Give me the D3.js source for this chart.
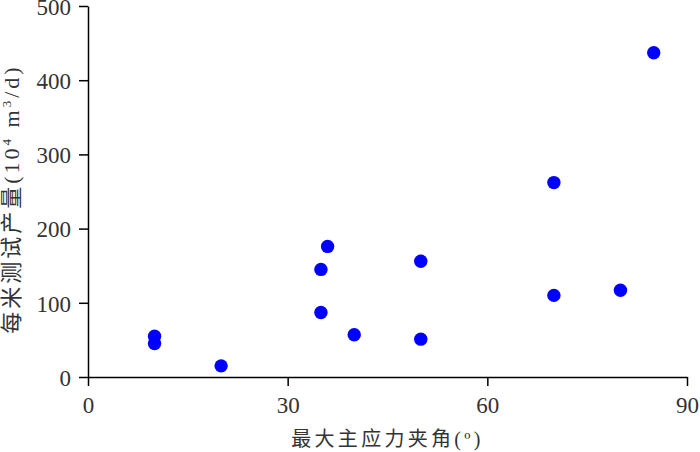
<!DOCTYPE html>
<html>
<head>
<meta charset="utf-8">
<script src="https://cdn.jsdelivr.net/npm/d3@7"></script>
<style>
  html, body { margin: 0; padding: 0; background: #fff; }
  svg { display: block; }
  .serif { font-family: "Liberation Serif", "Times New Roman", Times, "Noto Sans CJK SC", serif; }
</style>
</head>
<body>
<svg id="chart" width="700" height="452"></svg>
<script>
// Data
const angle = [10, 10, 20, 35, 36, 35, 40, 50, 50, 70, 70, 80, 85];
const production = [55, 45, 15, 145, 176, 87, 57, 51, 156, 262, 110, 117, 437];
const xTicks = [0, 30, 60, 90];
const yTicks = [0, 100, 200, 300, 400, 500];
const xTitle = "最大主应力夹角(º)";
const yTitleCJK = "每米测试产量";

const svg = d3.select("#chart");
const margin = { left: 88, right: 13, top: 6, bottom: 75 };
const W = 700, H = 452;

const x = d3.scaleLinear().domain([0, 90]).range([margin.left, W - margin.right]);
const y = d3.scaleLinear().domain([0, 500]).range([H - margin.bottom, margin.top]);

const xAxis = svg.append("g")
  .attr("transform", `translate(0,${y(0)})`)
  .call(d3.axisBottom(x).tickValues(xTicks).tickSize(9).tickPadding(11).tickSizeOuter(0));
const yAxis = svg.append("g")
  .attr("transform", `translate(${x(0)},0)`)
  .call(d3.axisLeft(y).tickValues(yTicks).tickSize(9).tickPadding(8).tickSizeOuter(0));

[xAxis, yAxis].forEach(g => {
  g.attr("font-family", null).attr("font-size", null);
  g.select(".domain").attr("stroke", "#000").attr("stroke-width", 1.5);
  g.selectAll(".tick line").attr("stroke", "#000").attr("stroke-width", 1.5);
  g.selectAll(".tick text")
    .attr("class", "serif")
    .attr("fill", "#333")
    .style("font-size", "23px");
});
yAxis.selectAll(".tick text").attr("dy", "0.36em");

// points
svg.append("g").selectAll("circle")
  .data(angle.map((a, i) => ({ a, p: production[i] })))
  .join("circle")
  .attr("cx", d => x(d.a))
  .attr("cy", d => y(d.p))
  .attr("r", 6.7)
  .attr("fill", "#0000ff");

// x title
svg.append("text")
  .attr("class", "serif")
  .attr("x", (x(0) + x(90)) / 2)
  .attr("y", 446)
  .attr("text-anchor", "middle")
  .attr("fill", "#333")
  .style("font-size", "20px")
  .style("letter-spacing", "3.3px")
  .text(xTitle);

// y title
const yt = svg.append("text")
  .attr("class", "serif")
  .attr("transform", `translate(19,${199}) rotate(-90)`)
  .attr("text-anchor", "middle")
  .attr("fill", "#333")
  .style("font-size", "22px")
  .style("letter-spacing", "3px");
yt.append("tspan").text(yTitleCJK + "(10");
yt.append("tspan").attr("dy", -8).style("font-size", "13px").text("4");
yt.append("tspan").attr("dy", 8).text(" m");
yt.append("tspan").attr("dy", -8).style("font-size", "13px").text("3");
yt.append("tspan").attr("dy", 8).text("/d)");
</script>
</body>
</html>
